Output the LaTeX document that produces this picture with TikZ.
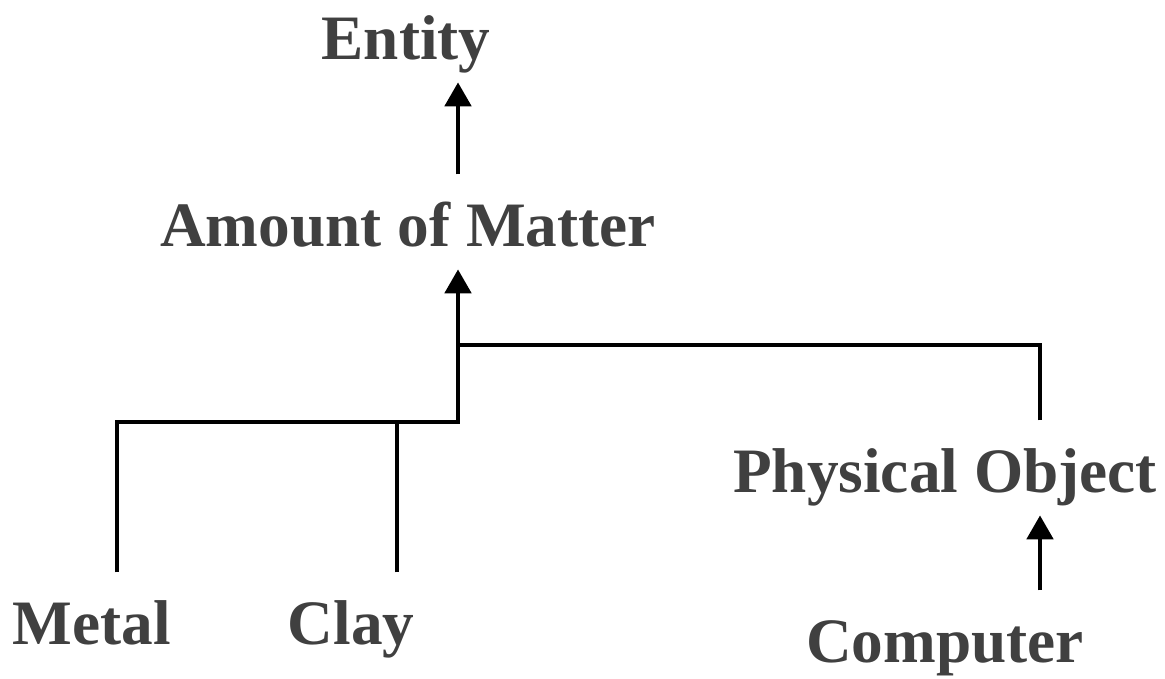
\documentclass[tikz,border=0pt]{standalone}
\usepackage{fontspec}
\setmainfont{Liberation Serif}
\usetikzlibrary{arrows.meta,calc}
\definecolor{ink}{HTML}{404040}
\tikzset{
  term/.style={font=\fontsize{45}{54}\selectfont\bfseries,text=ink,anchor=base,
    inner sep=.2cm,text height=31.5pt,text depth=10pt},
  link/.style={draw=black,line width=3.5pt},
  isa/.style={link,-{Triangle[length=.6cm,width=.65cm]}},
  gap/.style={shorten <=.5cm}
}
\begin{document}
\begin{tikzpicture}[x=1cm,y=1cm]
  \useasboundingbox (0,0) rectangle (29.125,16.975);
  % Concepts, placed on their baselines.
  \node[term] (entity) at (10.15,15.475) {Entity};
  \node[term] (matter) at (10.2,10.8) {Amount of Matter};
  \node[term] (physobj) at (23.625,4.65) {Physical Object};
  \node[term] (metal) at (2.3,.85) {Metal};
  \node[term] (clay) at (8.775,.85) {Clay};
  \node[term] (computer) at (23.625,.4) {Computer};

  % Joints of the bars.
  \coordinate (metalcol) at (2.925,6.425);
  \coordinate (claycol) at (9.925,6.425);
  \coordinate (stem) at (11.45,6.425);
  \coordinate (fork) at (11.45,8.35);
  \coordinate (objcol) at (26.0,8.35);

  % Metal and Clay join one stem up to Amount of Matter.
  \draw[isa,gap] (metal.north -| metalcol) -- (metalcol) -- (stem) -- (matter.south -| stem);
  \draw[link,gap] (clay.north -| claycol) -- (claycol);
  \draw[link,gap] (physobj.north -| objcol) -- (objcol) -- (fork);
  \draw[isa,gap] (matter.north -| stem) -- (entity.south -| stem);
  \draw[isa,gap] (computer.north -| objcol) -- (physobj.south -| objcol);
\end{tikzpicture}
\end{document}
